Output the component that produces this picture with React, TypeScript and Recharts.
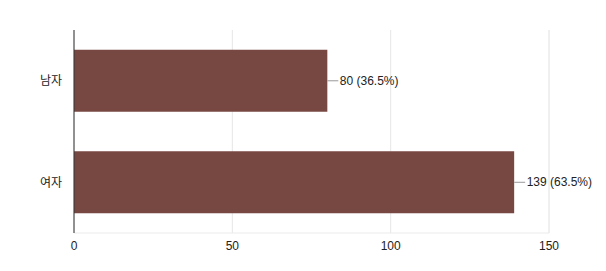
import React from "react";
import { BarChart, Bar, XAxis, YAxis, CartesianGrid, LabelList } from "recharts";

const categories = ["남자", "여자"];
const counts = [80, 139];
const percents = ["36.5%", "63.5%"];
const xTicks = [0, 50, 100, 150];
const minorTicks = [25, 75, 125];

const data = categories.map((c, i) => ({ name: c, value: counts[i], pct: percents[i] }));

const FONT = "Arial, 'Liberation Sans', 'Noto Sans CJK KR', sans-serif";

const renderLabel = (props: any) => {
  const { x, y, width, height, index } = props;
  const ex = Number(x) + Number(width);
  const cy = Number(y) + Number(height) / 2;
  const d = data[index];
  return (
    <g>
      <line x1={ex} y1={cy} x2={ex + 11} y2={cy} stroke="#999" strokeWidth={1} />
      <text x={ex + 12.5} y={cy} dy="0.35em" fontSize={12} fill="#222" fontFamily={FONT}>
        {`${d.value} (${d.pct})`}
      </text>
    </g>
  );
};

const EmptyTick = () => <g />;

export default function App() {
  return (
    <div style={{ position: "absolute", left: 0, top: 0, background: "#fff" }}>
      <BarChart
        width={606}
        height={271}
        data={data}
        layout="vertical"
        margin={{ top: 30, right: 57, bottom: 8, left: 0 }}
        barCategoryGap="19.5%"
      >
        <CartesianGrid xAxisId="top" horizontal={false} stroke="#f3f3f3" />
        <CartesianGrid horizontal={false} stroke="#e6e6e6" />
        <XAxis
          type="number"
          domain={[0, 150]}
          ticks={xTicks}
          tickLine={false}
          height={30}
          axisLine={{ stroke: "#ebebeb" }}
          tick={{ fontSize: 12, fill: "#222", fontFamily: FONT }}
        />
        <XAxis
          xAxisId="top"
          orientation="top"
          type="number"
          domain={[0, 150]}
          ticks={minorTicks}
          tick={<EmptyTick />}
          tickLine={false}
          axisLine={{ stroke: "#f3f3f3" }}
          height={0}
        />
        <YAxis
          type="category"
          dataKey="name"
          width={74}
          tickLine={false}
          tickMargin={6}
          axisLine={{ stroke: "#333", strokeWidth: 1 }}
          tick={{ fontSize: 12, fill: "#222", fontFamily: FONT }}
        />
        <Bar dataKey="value" fill="#774842" isAnimationActive={false}>
          <LabelList dataKey="value" content={renderLabel} />
        </Bar>
      </BarChart>
    </div>
  );
}
